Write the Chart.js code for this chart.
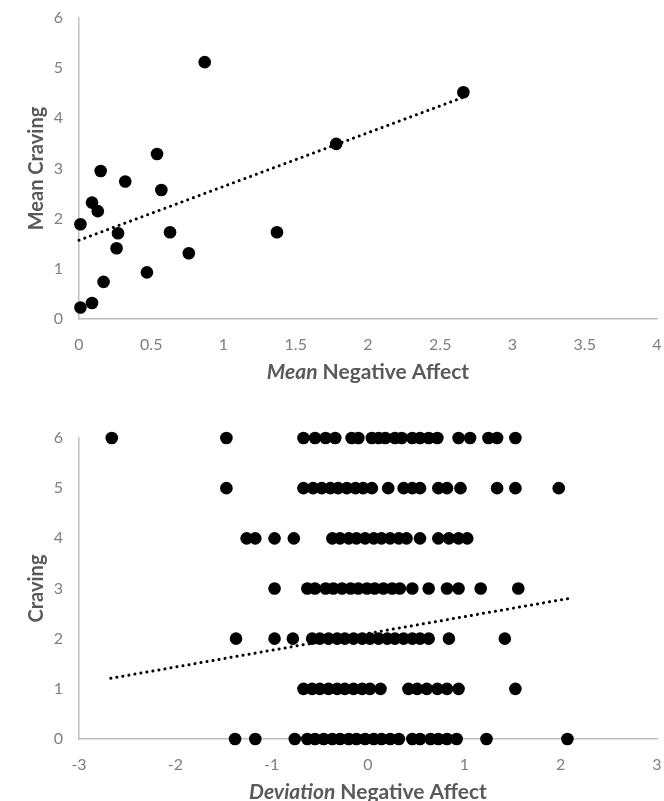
<!DOCTYPE html>
<html>
<head>
<meta charset="utf-8">
<script src="https://cdn.jsdelivr.net/npm/chart.js@4.4.1/dist/chart.umd.min.js"></script>
<style>
  html, body { margin: 0; padding: 0; background: #fff; }
  #wrap { position: relative; width: 664px; height: 801px; overflow: hidden; }
  canvas { position: absolute; left: 0; }
  #top { top: 0; }
  #bottom { top: 400px; }
</style>
</head>
<body>
<div id="wrap">
  <canvas id="top" width="664" height="400"></canvas>
  <canvas id="bottom" width="664" height="401"></canvas>
</div>
<script>
// top panel: one point per participant
const meanNegAffect = [0.01, 0.01, 0.09, 0.09, 0.13, 0.15, 0.17, 0.27, 0.26, 0.32, 0.47, 0.54, 0.57, 0.63, 0.76, 0.87, 1.37, 1.78, 2.66];
const meanCraving   = [0.23, 1.89, 0.32, 2.32, 2.15, 2.95, 0.74, 1.71, 1.41, 2.74, 0.93, 3.29, 2.57, 1.73, 1.31, 5.12, 1.73, 3.49, 4.52];
const topTrendX = [0, 2.66];
const topTrendY = [1.57, 4.42];
const topXTicks = [0, 0.5, 1, 1.5, 2, 2.5, 3, 3.5, 4];

// bottom panel: deviation negative affect, grouped by craving rating
const cravingLevels = [6, 5, 4, 3, 2, 1, 0];
const dev6 = [-2.66, -1.47, -0.67, -0.55, -0.44, -0.34, -0.17, -0.10, 0.04, 0.11, 0.18, 0.28, 0.35, 0.46, 0.54, 0.63, 0.72, 0.94, 1.06, 1.25, 1.34, 1.53];
const dev5 = [-1.47, -0.67, -0.57, -0.48, -0.39, -0.31, -0.22, -0.13, -0.05, 0.04, 0.21, 0.37, 0.46, 0.54, 0.73, 0.82, 0.96, 1.34, 1.53, 1.98];
const dev4 = [-1.26, -1.17, -0.97, -0.77, -0.37, -0.29, -0.20, -0.12, -0.03, 0.06, 0.14, 0.23, 0.32, 0.40, 0.54, 0.73, 0.84, 0.94, 1.03];
const dev3 = [-0.97, -0.63, -0.55, -0.44, -0.36, -0.27, -0.18, -0.10, -0.01, 0.07, 0.16, 0.25, 0.33, 0.46, 0.63, 0.82, 0.94, 1.17, 1.56];
const dev2 = [-1.37, -0.97, -0.78, -0.58, -0.50, -0.41, -0.32, -0.24, -0.15, -0.06, 0.02, 0.11, 0.20, 0.28, 0.37, 0.46, 0.54, 0.63, 0.84, 1.42];
const dev1 = [-0.67, -0.58, -0.50, -0.41, -0.32, -0.24, -0.15, -0.06, 0.02, 0.13, 0.42, 0.51, 0.61, 0.72, 0.82, 0.94, 1.53];
const dev0 = [-1.38, -1.17, -0.76, -0.63, -0.55, -0.46, -0.37, -0.29, -0.20, -0.12, -0.03, 0.06, 0.14, 0.23, 0.32, 0.46, 0.54, 0.65, 0.73, 0.82, 0.92, 1.23, 2.07];
const botTrendX = [-2.67, 2.08];
const botTrendY = [1.21, 2.80];
const botXTicks = [-3, -2, -1, 0, 1, 2, 3];

const TICK = '#7f7f7f';
const TITLE = '#595959';
const AXIS = '#bfbfbf';
const FONT = 'Lato, "Open Sans", sans-serif';

// x-axis title with an italic first word, drawn under the chart area
const xTitlePlugin = {
  id: 'xTitle',
  afterDraw(chart, args, opts) {
    const { ctx, chartArea } = chart;
    ctx.save();
    ctx.fillStyle = TITLE;
    ctx.textBaseline = 'middle';
    const f1 = `italic bold ${opts.size}px ${FONT}`;
    const f2 = `bold ${opts.size}px ${FONT}`;
    ctx.font = f1;
    const w1 = ctx.measureText(opts.italic).width;
    ctx.font = f2;
    const w2 = ctx.measureText(opts.rest).width;
    let x = (chartArea.left + chartArea.right) / 2 - (w1 + w2) / 2;
    const y = chartArea.bottom + opts.offset;
    ctx.font = f1;
    ctx.fillText(opts.italic, x, y);
    ctx.font = f2;
    ctx.fillText(opts.rest, x + w1, y);
    ctx.restore();
  }
};

function makeChart(id, datasets, cfg) {
  return new Chart(document.getElementById(id), {
    type: 'scatter',
    data: { datasets },
    options: {
      responsive: false,
      devicePixelRatio: 1,
      animation: false,
      layout: { padding: { top: cfg.padTop, right: 7, left: 0, bottom: 0 } },
      plugins: {
        legend: { display: false },
        tooltip: { enabled: false },
        xTitle: { italic: cfg.italic, rest: cfg.rest, size: 21, offset: cfg.titleOffset },
      },
      scales: {
        x: {
          type: 'linear',
          min: cfg.xTicks[0],
          max: cfg.xTicks[cfg.xTicks.length - 1],
          afterBuildTicks: s => { s.ticks = cfg.xTicks.map(v => ({ value: v })); },
          afterFit: s => { s.height = cfg.xHeight; s.paddingLeft = 0; s.paddingRight = 0; },
          grid: { display: false, drawTicks: false },
          border: { display: true, color: AXIS, width: 1.5 },
          ticks: {
            color: TICK,
            font: { family: FONT, size: 16 },
            padding: 16,
            maxRotation: 0,
            autoSkip: false,
            callback: v => String(v),
          },
        },
        y: {
          type: 'linear',
          min: 0,
          max: 6,
          ticks: {
            stepSize: 1,
            color: TICK,
            font: { family: FONT, size: 16 },
            padding: 16,
            callback: v => String(v),
          },
          afterFit: s => { s.width = 79; s.paddingTop = 0; s.paddingBottom = 0; },
          grid: { display: false, drawTicks: false },
          border: { display: true, color: AXIS, width: 1.5 },
          title: {
            display: true,
            text: cfg.yTitle,
            color: TITLE,
            font: { family: FONT, size: 20, weight: 'bold' },
            padding: { top: 25, bottom: 0 },
          },
        },
      },
    },
    plugins: [xTitlePlugin],
  });
}

const dotStyle = { backgroundColor: '#000', borderWidth: 0, pointRadius: 6.3, pointHoverRadius: 6.3, clip: false };
const trendStyle = {
  type: 'line', showLine: true, pointRadius: 0, borderColor: '#000', borderWidth: 3,
  borderDash: [0.1, 6], borderCapStyle: 'round', fill: false, clip: false,
};

makeChart('top', [
  Object.assign({ data: meanNegAffect.map((x, i) => ({ x, y: meanCraving[i] })) }, dotStyle),
  Object.assign({ data: topTrendX.map((x, i) => ({ x, y: topTrendY[i] })) }, trendStyle),
], {
  padTop: 18, xHeight: 81, titleOffset: 53, xTicks: topXTicks,
  italic: 'Mean', rest: ' Negative Affect', yTitle: 'Mean Craving',
});

const devRows = [dev6, dev5, dev4, dev3, dev2, dev1, dev0];
const devPoints = [];
devRows.forEach((row, r) => row.forEach(x => devPoints.push({ x, y: cravingLevels[r] })));

makeChart('bottom', [
  Object.assign({ data: devPoints }, dotStyle),
  Object.assign({ data: botTrendX.map((x, i) => ({ x, y: botTrendY[i] })) }, trendStyle),
], {
  padTop: 38, xHeight: 62, titleOffset: 53, xTicks: botXTicks,
  italic: 'Deviation', rest: ' Negative Affect', yTitle: 'Craving',
});
</script>
</body>
</html>
